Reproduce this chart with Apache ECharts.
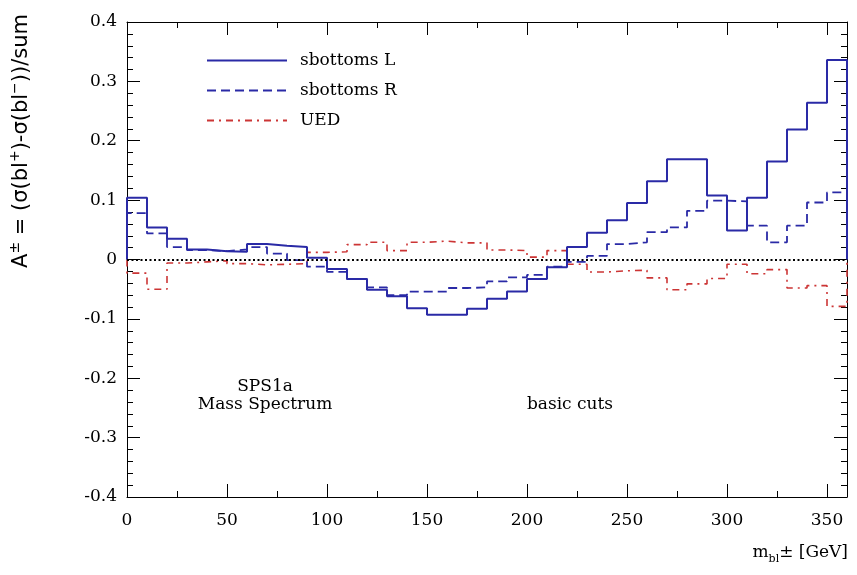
<!DOCTYPE html>
<html>
<head>
<meta charset="utf-8">
<script src="https://cdn.jsdelivr.net/npm/echarts@6/dist/echarts.min.js"></script>
<style>
  html, body { margin: 0; padding: 0; background: #fff; }
  #chart { width: 857px; height: 575px; }
</style>
</head>
<body>
<div id="chart"></div>
<script>
// Charge asymmetry of m_bl, 10 GeV bins from 0 to 360 GeV
const binEdges = [0,10,20,30,40,50,60,70,80,90,100,110,120,130,140,150,160,170,
                  180,190,200,210,220,230,240,250,260,270,280,290,300,310,320,330,340,350];
const xMax = 360;

const sbottomsL = [0.104,0.054,0.035,0.017,0.014,0.013,0.026,0.023,0.021,0.003,
                   -0.016,-0.033,-0.051,-0.062,-0.082,-0.093,-0.093,-0.083,-0.066,-0.054,
                   -0.033,-0.013,0.021,0.045,0.066,0.095,0.132,0.169,0.169,0.108,
                   0.049,0.104,0.165,0.219,0.264,0.336];
const sbottomsR = [0.078,0.044,0.021,0.016,0.014,0.017,0.021,0.010,-0.001,-0.012,
                   -0.021,-0.033,-0.047,-0.060,-0.054,-0.054,-0.048,-0.047,-0.037,-0.030,
                   -0.026,-0.012,-0.004,0.006,0.026,0.029,0.046,0.054,0.082,0.099,
                   0.098,0.057,0.029,0.057,0.096,0.113];
const ued       = [-0.023,-0.050,-0.006,-0.004,-0.002,-0.007,-0.009,-0.008,-0.007,0.012,
                   0.013,0.025,0.029,0.015,0.029,0.031,0.028,0.028,0.016,0.015,
                   0.004,0.015,-0.008,-0.021,-0.019,-0.018,-0.031,-0.051,-0.041,-0.032,
                   -0.008,-0.024,-0.017,-0.048,-0.044,-0.079];

const xTickLabels = ['0','50','100','150','200','250','300','350'];
const yTickLabels = ['-0.4','-0.3','-0.2','-0.1','0','0.1','0.2','0.3','0.4'];
const seriesNames = ['sbottoms L','sbottoms R','UED'];

// histogram outline: rises from zero at the first edge, drops back at the last
function histPoints(vals) {
  const pts = [[binEdges[0], 0]];
  vals.forEach((v, i) => pts.push([binEdges[i], v]));
  pts.push([xMax, vals[vals.length - 1]]);
  pts.push([xMax, 0]);
  return pts;
}

const SERIF = 'DejaVu Serif';
const BLUE = '#2a2aa6';
const RED = '#cc3535';

const xLabel = v => { const i = Math.round(v / 50); return (v % 50 === 0 && xTickLabels[i] !== undefined) ? xTickLabels[i] : ''; };
const yLabel = v => { const i = Math.round((v + 0.4) / 0.1); return yTickLabels[i] !== undefined ? yTickLabels[i] : ''; };

const frameAxis = {
  axisLine: { show: true, onZero: false, lineStyle: { color: '#000', width: 1 } },
  axisTick: { show: true, inside: true, length: 13, lineStyle: { color: '#000', width: 1 } },
  minorTick: { show: true, length: 6, lineStyle: { color: '#000', width: 1 } },
  splitLine: { show: false },
  minorSplitLine: { show: false }
};

const chart = echarts.init(document.getElementById('chart'), null, { renderer: 'canvas' });
chart.setOption({
  animation: false,
  backgroundColor: '#fff',
  grid: { left: 127, right: 10, top: 22, bottom: 78, containLabel: false },
  xAxis: [
    Object.assign({}, frameAxis, {
      type: 'value', position: 'bottom', min: 0, max: xMax, interval: 50,
      minorTick: Object.assign({}, frameAxis.minorTick, { splitNumber: 2 }),
      axisLabel: { show: true, formatter: xLabel, showMaxLabel: false, margin: 15,
                   fontFamily: SERIF, fontSize: 17, color: '#000' }
    }),
    Object.assign({}, frameAxis, {
      type: 'value', position: 'top', min: 0, max: xMax, interval: 50,
      minorTick: Object.assign({}, frameAxis.minorTick, { splitNumber: 2 }),
      axisLabel: { show: false }
    })
  ],
  yAxis: [
    Object.assign({}, frameAxis, {
      type: 'value', position: 'left', min: -0.4, max: 0.4, interval: 0.1,
      minorTick: Object.assign({}, frameAxis.minorTick, { splitNumber: 5 }),
      axisLabel: { show: true, formatter: yLabel, margin: 10,
                   fontFamily: SERIF, fontSize: 17, color: '#000' }
    }),
    Object.assign({}, frameAxis, {
      type: 'value', position: 'right', min: -0.4, max: 0.4, interval: 0.1,
      minorTick: Object.assign({}, frameAxis.minorTick, { splitNumber: 5 }),
      axisLabel: { show: false }
    })
  ],
  legend: {
    orient: 'vertical', left: 201, top: 47,
    itemWidth: 80, itemHeight: 14, itemGap: 13,
    itemStyle: { opacity: 0, borderWidth: 0 },
    textStyle: { fontFamily: SERIF, fontSize: 17, color: '#000', padding: [0, 0, 0, 8] },
    data: seriesNames
  },
  series: [
    {
      name: seriesNames[2], type: 'line', step: 'end', showSymbol: false, symbol: 'none',
      data: histPoints(ued), z: 2,
      lineStyle: { color: RED, width: 1.6, type: [7, 5, 2, 5] },
      itemStyle: { color: RED },
      markLine: {
        silent: true, symbol: 'none', label: { show: false },
        lineStyle: { color: '#000', width: 1.8, type: [2, 2.5] },
        data: [{ yAxis: 0 }]
      }
    },
    {
      name: seriesNames[1], type: 'line', step: 'end', showSymbol: false, symbol: 'none',
      data: histPoints(sbottomsR), z: 3,
      lineStyle: { color: BLUE, width: 1.8, type: [9, 5] },
      itemStyle: { color: BLUE }
    },
    {
      name: seriesNames[0], type: 'line', step: 'end', showSymbol: false, symbol: 'none',
      data: histPoints(sbottomsL), z: 4,
      lineStyle: { color: BLUE, width: 2, type: 'solid' },
      itemStyle: { color: BLUE }
    }
  ],
  graphic: [
    { type: 'text', x: 265, y: 387, style: { text: 'SPS1a', fontFamily: SERIF, fontSize: 17, fill: '#000', align: 'center', verticalAlign: 'middle' } },
    { type: 'text', x: 265, y: 405, style: { text: 'Mass Spectrum', fontFamily: SERIF, fontSize: 17, fill: '#000', align: 'center', verticalAlign: 'middle' } },
    { type: 'text', x: 570, y: 405, style: { text: 'basic cuts', fontFamily: SERIF, fontSize: 17, fill: '#000', align: 'center', verticalAlign: 'middle' } },
    {
      type: 'text', x: 848, y: 553,
      style: {
        text: '{n|m}{b|bl}{n|± [GeV]}', align: 'right', verticalAlign: 'middle', fill: '#000',
        rich: {
          n: { fontFamily: SERIF, fontSize: 17, lineHeight: 24, verticalAlign: 'middle' },
          b: { fontFamily: SERIF, fontSize: 11, lineHeight: 14, verticalAlign: 'bottom' }
        }
      }
    },
    {
      type: 'text', x: 22, y: 141, rotation: Math.PI / 2,
      style: {
        text: '{n|A}{s|±}{n| = (σ(bl}{s|+}{n|)-σ(bl}{s|−}{n|))/sum}',
        align: 'center', verticalAlign: 'middle', fill: '#000',
        rich: {
          n: { fontFamily: 'DejaVu Sans', fontSize: 21, lineHeight: 28, verticalAlign: 'middle' },
          s: { fontFamily: 'DejaVu Sans', fontSize: 14, lineHeight: 16, verticalAlign: 'top' }
        }
      }
    }
  ]
});
</script>
</body>
</html>
